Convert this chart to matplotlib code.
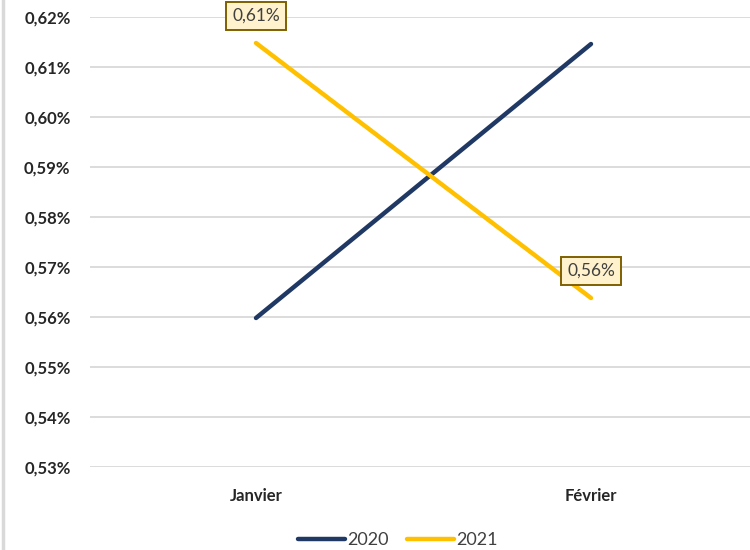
import matplotlib.pyplot as plt
from matplotlib.lines import Line2D
from matplotlib.ticker import FuncFormatter

months = ["Janvier", "Février"]
years = ["2020", "2021"]
values_2020 = [0.5598, 0.6146]
values_2021 = [0.6148, 0.5638]
y_ticks = [0.53, 0.54, 0.55, 0.56, 0.57, 0.58, 0.59, 0.60, 0.61, 0.62]

colors = {"2020": "#1F3864", "2021": "#FFC000"}
plt.rcParams["font.family"] = ["Lato", "DejaVu Sans"]

fig = plt.figure(figsize=(7.5, 5.5), dpi=100)
ax = fig.add_axes([90 / 750, 83 / 550, 660 / 750, 450 / 550])

x = list(range(len(months)))
ax.plot(x, values_2020, color=colors["2020"], lw=3.2, solid_capstyle="round", label="2020", zorder=3)
ax.plot(x, values_2021, color=colors["2021"], lw=3.2, solid_capstyle="round", label="2021", zorder=3)

# data labels on 2021
for xi, v in zip(x, values_2021):
    ax.annotate(f"{v:.2f}%".replace(".", ","), (xi, v), xytext=(0, 19.5), textcoords="offset points",
                ha="center", va="center", fontsize=12.5, color="#404040", zorder=5,
                bbox=dict(boxstyle="square,pad=0.33", fc="#FFF2CC", ec="#7F6000", lw=1.4))

ax.set_xlim(-0.4955, 1.4746)
ax.set_ylim(0.53, 0.62)
ax.set_yticks(y_ticks)
ax.yaxis.set_major_formatter(FuncFormatter(lambda v, p: f"{v:.2f}%".replace(".", ",")))
ax.set_xticks(x)
ax.set_xticklabels(months)
ax.tick_params(axis="y", length=0, pad=14, labelsize=12, labelcolor="#262626")
ax.tick_params(axis="x", length=0, pad=15, labelsize=12, labelcolor="#262626")
for lab in ax.get_xticklabels() + ax.get_yticklabels():
    lab.set_fontweight("bold")
ax.grid(axis="y", color="#D9D9D9", lw=1.3)
ax.set_axisbelow(True)
for s in ax.spines.values():
    s.set_visible(False)

fig.add_artist(Line2D([3 / 750, 3 / 750], [2 / 550, 1], color="#D9D9D9", lw=2.5))

fig.legend(handles=ax.get_lines(), labels=years, loc="center", bbox_to_anchor=(398 / 750, 1 - 540 / 550),
           ncol=2, frameon=False, fontsize=13, handlelength=2.6, handletextpad=0.15, columnspacing=1.0,
           labelcolor="#404040")

fig.savefig("out.png", dpi=100)
